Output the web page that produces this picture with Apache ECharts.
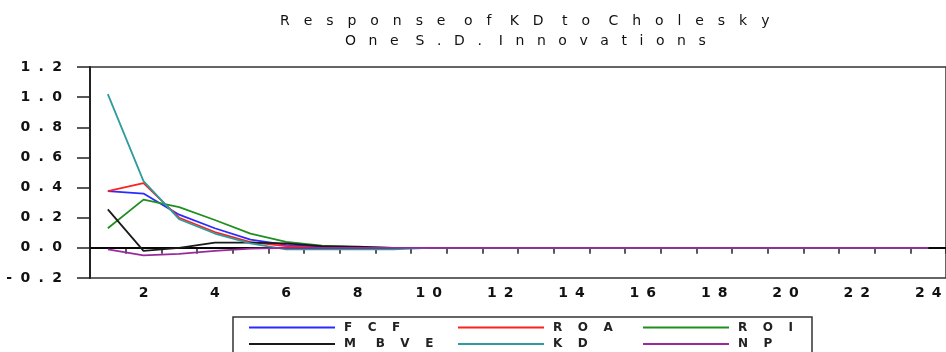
<!DOCTYPE html>
<html><head><meta charset="utf-8">
<script src="https://cdn.jsdelivr.net/npm/echarts@6/dist/echarts.min.js"></script>
<style>html,body{margin:0;padding:0;background:#fff}#c{width:946px;height:352px}</style>
</head><body><div id="c"></div>
<script>
// ---- data ----
const periods = ['1','2','3','4','5','6','7','8','9','10','11','12','13','14','15','16','17','18','19','20','21','22','23','24'];
const seriesNames = ['FCF', 'ROA', 'ROI', 'M BVE', 'KD', 'NP'];
const FCF  = [0.377, 0.36, 0.22, 0.13, 0.055, 0.02, 0.005, 0, 0, 0, 0, 0, 0, 0, 0, 0, 0, 0, 0, 0, 0, 0, 0, 0];
const ROA  = [0.377, 0.43, 0.20, 0.105, 0.038, 0.012, 0.0, -0.003, 0, 0, 0, 0, 0, 0, 0, 0, 0, 0, 0, 0, 0, 0, 0, 0];
const ROI  = [0.13, 0.32, 0.27, 0.185, 0.095, 0.04, 0.015, 0.005, 0, 0, 0, 0, 0, 0, 0, 0, 0, 0, 0, 0, 0, 0, 0, 0];
const MBVE = [0.255, -0.02, 0.0, 0.035, 0.035, 0.03, 0.012, 0.008, 0, 0, 0, 0, 0, 0, 0, 0, 0, 0, 0, 0, 0, 0, 0, 0];
const KD   = [1.02, 0.443, 0.19, 0.095, 0.03, -0.01, -0.01, -0.01, -0.01, 0, 0, 0, 0, 0, 0, 0, 0, 0, 0, 0, 0, 0, 0, 0];
const NP   = [-0.01, -0.05, -0.04, -0.02, -0.005, 0, 0, 0, 0, 0, 0, 0, 0, 0, 0, 0, 0, 0, 0, 0, 0, 0, 0, 0];
const titleLines = ['Response of KD to Cholesky', 'One S.D. Innovations'];
const yMin = -0.2, yMax = 1.2, yStep = 0.2;

// ---- letter spacing helpers (wide EViews-like lettering) ----
const FAM = 'DejaVu Sans';
const cv = document.createElement('canvas').getContext('2d');
function hairCount(text, font, target) {
  cv.font = font;
  const hw = cv.measureText('\u200A').width || 1;
  let gaps = 0;
  for (let i = 0; i < text.length - 1; i++) if (text[i + 1] !== ' ') gaps++;
  const w0 = cv.measureText(text).width;
  return Math.max(0, Math.round((target - w0) / (Math.max(gaps,1) * hw)));
}
function track(text, n) {
  const g = '\u200A'.repeat(n);
  let out = '';
  for (let i = 0; i < text.length; i++) {
    out += text[i];
    if (i < text.length - 1 && text[i + 1] !== ' ') out += g;
  }
  return out;
}
const fT = '14px "' + FAM + '"';
const fA = 'bold 14px "' + FAM + '"';
const fL = 'bold 12px "' + FAM + '"';
const nT1 = hairCount(titleLines[0], fT, 492);
const nT2 = hairCount(titleLines[1], fT, 352);
const nY = hairCount('0.0', fA, 42);
const nX = hairCount('10', fA, 26);
const nL = hairCount('FCF', fL, 56);

const colors = ['#2b2bff', '#ff2020', '#1f8f1f', '#1a1a1a', '#2e9c9c', '#9a2a9a'];
const dataSets = [FCF, ROA, ROI, MBVE, KD, NP];

const series = seriesNames.map((name, i) => {
  const s = {
    name, type: 'line', data: dataSets[i], symbol: 'none',
    lineStyle: { width: 1.8, color: colors[i] }, itemStyle: { color: colors[i] },
    animation: false, z: 2 + i
  };
  if (i === 0) {
    s.markLine = {
      silent: true, symbol: ['none', 'none'], label: { show: false },
      lineStyle: { color: '#000', width: 1.5, type: 'solid' },
      data: [{ yAxis: 0 }], animation: false
    };
  }
  return s;
});

const legendLefts = [249, 458, 643];
const legends = [0, 1, 2].map(c => ({
  data: [seriesNames[c], seriesNames[c + 3]],
  orient: 'vertical', left: legendLefts[c], top: 321,
  itemWidth: 86, itemHeight: 2, itemGap: 3.6, icon: 'rect',
  selectedMode: false, padding: 0,
  formatter: n => track(n, nL),
  textStyle: { fontFamily: FAM, fontSize: 12, fontWeight: 'bold', color: '#222', lineHeight: 13, padding: [0, 0, 0, 4] }
}));

const chart = echarts.init(document.getElementById('c'), null, { renderer: 'canvas' });
chart.setOption({
  animation: false,
  backgroundColor: '#fff',
  title: [
    { text: track(titleLines[0], nT1), left: 280, top: 14, padding: 0,
      textStyle: { fontFamily: FAM, fontSize: 14, fontWeight: 'normal', color: '#111' } },
    { text: track(titleLines[1], nT2), left: 345, top: 34, padding: 0,
      textStyle: { fontFamily: FAM, fontSize: 14, fontWeight: 'normal', color: '#111' } }
  ],
  grid: { left: 90, top: 67, width: 876, height: 211, show: true, borderColor: '#333', borderWidth: 1.5, backgroundColor: 'transparent' },
  xAxis: {
    type: 'category', data: periods, boundaryGap: true,
    axisLine: { lineStyle: { color: '#222', width: 2 } },
    axisTick: { show: true, interval: 0, length: 6, lineStyle: { color: '#222', width: 1.5 } },
    axisLabel: {
      interval: idx => idx % 2 === 1, margin: 8,
      fontFamily: FAM, fontSize: 14, fontWeight: 'bold', color: '#111',
      formatter: v => track(v, nX)
    },
    splitLine: { show: false }
  },
  yAxis: {
    type: 'value', min: yMin, max: yMax, interval: yStep,
    axisLine: { show: true, lineStyle: { color: '#222', width: 2 } },
    axisTick: { show: true, length: 13, lineStyle: { color: '#222', width: 1.5 } },
    axisLabel: {
      margin: 28, fontFamily: FAM, fontSize: 14, fontWeight: 'bold', color: '#111',
      formatter: v => track(v.toFixed(1), nY)
    },
    splitLine: { show: false }
  },
  legend: legends,
  graphic: [{
    type: 'rect', silent: true, z: 0,
    shape: { x: 233, y: 317, width: 579, height: 60 },
    style: { fill: 'none', stroke: '#333', lineWidth: 1.5 }
  }],
  series
});
</script>
</body></html>
